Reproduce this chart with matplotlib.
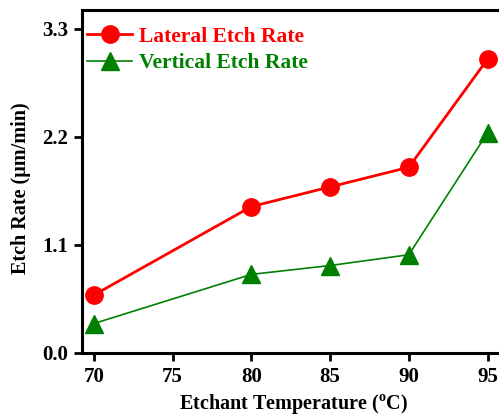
import matplotlib
matplotlib.use("Agg")
import matplotlib.pyplot as plt

temps = [70, 80, 85, 90, 95]
lateral = [0.59, 1.49, 1.69, 1.89, 2.99]
vertical = [0.30, 0.80, 0.89, 1.00, 2.24]
yticks = [0.0, 1.1, 2.2, 3.3]
xticks = [70, 75, 80, 85, 90, 95]

plt.rcParams["font.family"] = ["Liberation Serif", "DejaVu Serif"]
plt.rcParams["font.weight"] = "bold"
plt.rcParams["mathtext.fontset"] = "custom"
plt.rcParams["mathtext.rm"] = "Liberation Serif"
plt.rcParams["mathtext.bf"] = "Liberation Serif:bold"

fig = plt.figure(figsize=(4.99, 4.15), dpi=100)
ax = fig.add_axes([0.1643, 0.1494, 0.838, 0.8265])

ax.plot(temps, lateral, color="red", lw=2, marker="o", markersize=12.5,
        label="Lateral Etch Rate")
ax.plot(temps, vertical, color="green", lw=1.2, marker="^", markersize=13,
        label="Vertical Etch Rate")

ax.set_xlim(69.24, 95.8)
ax.set_ylim(0, 3.49)
ax.set_xticks(xticks)
ax.set_yticks(yticks)
ax.set_yticklabels([f"{v:.1f}" for v in yticks])

for s in ax.spines.values():
    s.set_linewidth(2.2)
ax.tick_params(direction="out", length=6, width=2, labelsize=15, pad=4)
ax.tick_params(top=False, right=False)

ax.set_xlabel(r"Etchant Temperature ($^\mathbf{o}$C)", fontsize=14.5, fontweight="bold")
ax.set_ylabel("Etch Rate (\u03bcm/min)", fontsize=14.5, fontweight="bold")
ax.xaxis.set_label_coords(0.505, -0.115)
ax.yaxis.set_label_coords(-0.122, 0.48)

leg = ax.legend(loc="upper left", bbox_to_anchor=(0.012, 0.951), frameon=False,
                fontsize=15.5, handlelength=2.1, handletextpad=0.3,
                borderaxespad=0, borderpad=0, labelspacing=0.3)
for t, c in zip(leg.get_texts(), ["red", "green"]):
    t.set_color(c)

fig.savefig("out.png", dpi=100)
